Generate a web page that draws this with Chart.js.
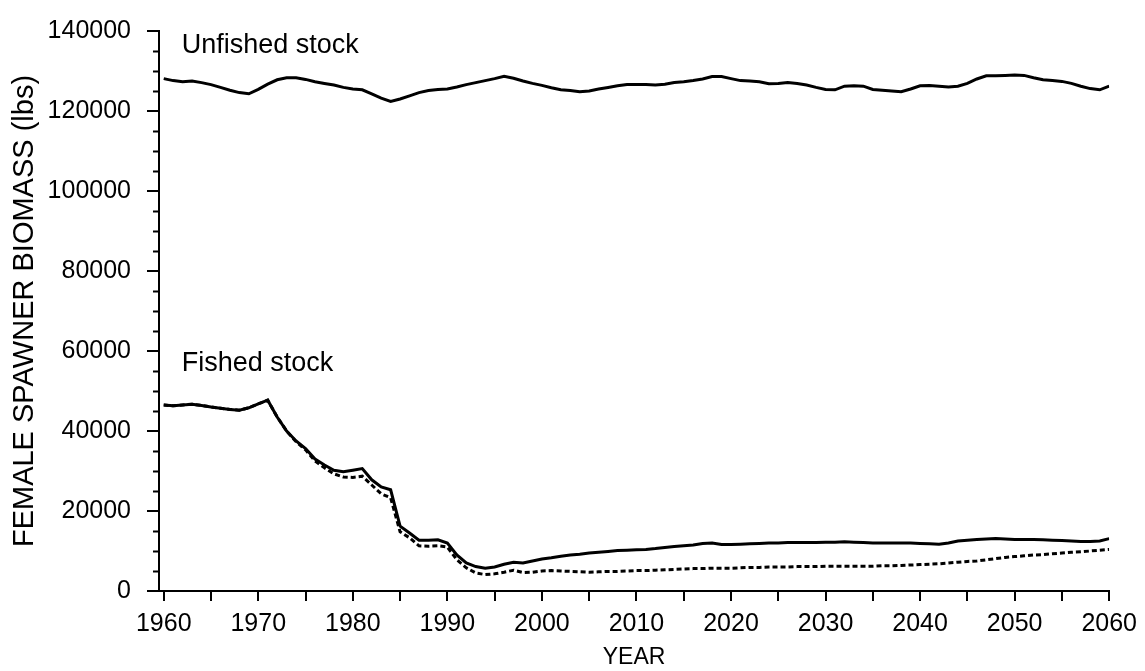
<!DOCTYPE html>
<html>
<head>
<meta charset="utf-8">
<script src="https://cdn.jsdelivr.net/npm/chart.js@4/dist/chart.umd.min.js"></script>
<style>
html,body{margin:0;padding:0;background:#fff;}
canvas{display:block;}
</style>
</head>
<body>
<canvas id="c" width="1145" height="671"></canvas>
<script>
const years = [];
for (let y = 1960; y <= 2060; y++) years.push(y);

const unfished = [
128100,127600,127300,127500,127100,126600,125900,125200,124600,124300,
125400,126700,127800,128300,128300,127900,127300,126900,126500,125900,
125500,125300,124300,123200,122400,123000,123800,124600,125100,125400,
125500,126000,126600,127100,127600,128100,128700,128200,127500,126900,
126400,125800,125300,125100,124800,125000,125500,125900,126300,126600,
126600,126600,126500,126700,127100,127300,127600,128000,128600,128600,
128100,127600,127500,127300,126800,126900,127100,126900,126500,125900,
125400,125300,126200,126300,126200,125400,125200,125000,124800,125500,
126300,126400,126200,126000,126200,126900,128000,128800,128800,128900,
129000,128900,128300,127800,127600,127400,126900,126200,125600,125300,
126200];

const fished = [
46500,46300,46500,46700,46400,46000,45700,45400,45200,45800,
46800,47700,43500,40000,37500,35600,33000,31500,30200,29800,
30200,30600,27800,26000,25300,16200,14500,12700,12700,12800,
12000,9000,7000,6100,5700,6000,6700,7200,7000,7500,
8000,8300,8700,9000,9200,9500,9700,9900,10100,10200,
10300,10400,10600,10900,11100,11300,11500,11900,12000,11600,
11600,11700,11800,11900,12000,12000,12100,12100,12100,12100,
12200,12200,12300,12200,12100,12000,12000,12000,12000,12000,
11900,11800,11700,12000,12500,12700,12900,13000,13100,13000,
12900,12900,12900,12800,12700,12600,12500,12400,12400,12500,
13100];

const fishedAlt = [
46500,46300,46500,46700,46400,46000,45700,45400,45200,45800,
46800,47700,43500,40000,37300,35300,32500,30800,29300,28500,
28400,28700,26500,24300,23300,14800,13300,11300,11200,11300,
11000,7800,5800,4500,4100,4300,4700,5200,4600,4700,
5000,5100,5000,4900,4800,4700,4800,4900,4900,5000,
5100,5100,5200,5300,5400,5500,5600,5600,5700,5700,
5700,5800,5900,5900,6000,6000,6000,6100,6100,6100,
6200,6200,6200,6200,6200,6200,6300,6300,6400,6500,
6600,6700,6800,7000,7200,7400,7500,7800,8100,8400,
8600,8800,9000,9100,9300,9500,9700,9800,10000,10200,
10400];

const xTickYears = [];
for (let y = 1960; y <= 2060; y += 5) xTickYears.push(y);
const yMajorTicks = [0,20000,40000,60000,80000,100000,120000,140000];
const yMinorStep = 5000;

const annotations = [
  {text: 'Unfished stock', x: 1961.9, y: 134500},
  {text: 'Fished stock', x: 1961.9, y: 55000}
];

const FONT = '"Liberation Sans", Arial, sans-serif';
const toXY = arr => arr.map((v, i) => ({x: years[i], y: v}));

const extras = {
  id: 'extras',
  afterDraw(chart) {
    const ctx = chart.ctx;
    const xs = chart.scales.x, ys = chart.scales.y;
    const axisX = chart.chartArea.left;
    ctx.save();
    ctx.strokeStyle = '#000';
    ctx.lineWidth = 2;
    for (let v = yMinorStep; v < 140000; v += yMinorStep) {
      if (v % 20000 === 0) continue;
      const py = Math.round(ys.getPixelForValue(v)) + 0.5;
      ctx.beginPath();
      ctx.moveTo(axisX - 6, py);
      ctx.lineTo(axisX, py);
      ctx.stroke();
    }
    ctx.fillStyle = '#000';
    ctx.font = '27px ' + FONT;
    ctx.textBaseline = 'alphabetic';
    ctx.textAlign = 'left';
    annotations.forEach(a => {
      ctx.fillText(a.text, xs.getPixelForValue(a.x), ys.getPixelForValue(a.y));
    });
    ctx.restore();
  }
};

new Chart(document.getElementById('c'), {
  type: 'line',
  data: {
    datasets: [
      {label: 'Unfished stock', data: toXY(unfished), borderColor: '#000', borderWidth: 3, pointRadius: 0, tension: 0, fill: false},
      {label: 'Fished stock', data: toXY(fished), borderColor: '#000', borderWidth: 3, pointRadius: 0, tension: 0, fill: false},
      {label: 'Fished stock (alt)', data: toXY(fishedAlt), borderColor: '#000', borderWidth: 3, borderDash: [5,3], pointRadius: 0, tension: 0, fill: false}
    ]
  },
  options: {
    responsive: false,
    animation: false,
    devicePixelRatio: 1,
    layout: {padding: {top: 18, right: 29, left: 0, bottom: 0}},
    plugins: {legend: {display: false}, tooltip: {enabled: false}},
    scales: {
      x: {
        type: 'linear',
        min: 1959.5,
        max: 2060,
        afterBuildTicks: s => { s.ticks = xTickYears.map(v => ({value: v})); },
        afterFit: s => { s.height = 80; },
        ticks: {
          autoSkip: false, maxRotation: 0, color: '#000', padding: 8,
          font: {family: FONT, size: 25},
          callback: v => (v % 10 === 0 ? String(v) : '')
        },
        grid: {drawOnChartArea: false, drawTicks: true, tickLength: 10, color: '#000', lineWidth: 2},
        border: {display: true, color: '#000', width: 2},
        title: {display: true, text: 'YEAR', color: '#000', font: {family: FONT, size: 23}, padding: {top: 0, bottom: 0}}
      },
      y: {
        min: 0,
        max: 140000,
        afterBuildTicks: s => { s.ticks = yMajorTicks.map(v => ({value: v})); },
        afterFit: s => { s.width = 159; },
        ticks: {color: '#000', padding: 16, font: {family: FONT, size: 25}, callback: v => String(v)},
        grid: {drawOnChartArea: false, drawTicks: true, tickLength: 12, color: '#000', lineWidth: 2},
        border: {display: true, color: '#000', width: 2},
        title: {display: true, text: 'FEMALE SPAWNER BIOMASS (lbs)', color: '#000', font: {family: FONT, size: 29}, padding: {top: 8, bottom: 0}}
      }
    }
  },
  plugins: [extras]
});
</script>
</body>
</html>
